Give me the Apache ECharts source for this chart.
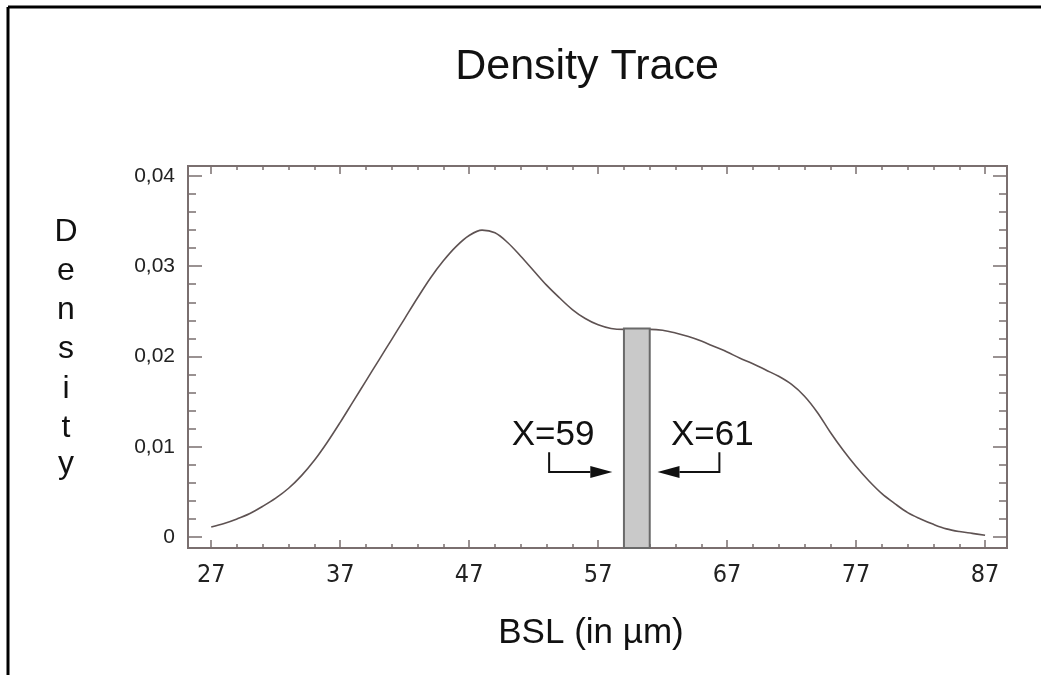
<!DOCTYPE html>
<html>
<head>
<meta charset="utf-8">
<script src="https://cdn.jsdelivr.net/npm/echarts@6/dist/echarts.min.js"></script>
<style>
html,body{margin:0;padding:0;background:#fff;}
#chart{width:1041px;height:675px;}
</style>
</head>
<body>
<div id="chart"></div>
<script>
// ---- data ----
const bslValues = [27,28,29,30,31,32,33,34,35,36,37,38,39,40,41,42,43,44,45,46,47,48,49,50,51,52,53,54,55,56,57,58,59,60,61,62,63,64,65,66,67,68,69,70,71,72,73,74,75,76,77,78,79,80,81,82,83,84,85,86,87];
const densityValues = [0.0011,0.0015,0.0020,0.0026,0.0034,0.0043,0.0054,0.0068,0.0085,0.0105,0.0127,0.0150,0.0173,0.0196,0.0219,0.0242,0.0265,0.0287,0.0306,0.0322,0.0334,0.0340,0.0337,0.0326,0.0311,0.0295,0.0279,0.0265,0.0252,0.0242,0.0235,0.0231,0.0230,0.0230,0.0230,0.0229,0.0226,0.0222,0.0217,0.0211,0.0205,0.0198,0.0192,0.0185,0.0178,0.0169,0.0156,0.0138,0.0116,0.0096,0.0078,0.0062,0.0048,0.0037,0.0027,0.0020,0.0014,0.0009,0.0006,0.0004,0.0002];
const xMajorTicks = [27,37,47,57,67,77,87];
const xMinorTicks = [29,31,33,35,39,41,43,45,49,51,53,55,59,61,63,65,69,71,73,75,79,81,83,85];
const yMajorTicks = [0,0.01,0.02,0.03,0.04];
const yMinorTicks = [0.002,0.004,0.006,0.008,0.012,0.014,0.016,0.018,0.022,0.024,0.026,0.028,0.032,0.034,0.036,0.038];
const intervalRange = [59,61];
const intervalHeight = 0.0231;
const leftLabel = {text:'X=59', x:53.5, y:0.0113};
const rightLabel = {text:'X=61', x:65.85, y:0.0113};
const leftArrow = [[53.2,0.0094],[53.2,0.0072],[58.1,0.0072]];
const rightArrow = [[66.4,0.0094],[66.4,0.0072],[61.6,0.0072]];

const X_MIN = 25.2, X_MAX = 88.7;
const Y_MIN = -0.00122, Y_MAX = 0.0411;
const axisColor = '#7a6f6f';
const curveColor = '#5e5252';
const narrowFont = '"Liberation Sans Narrow","DejaVu Sans Condensed","Liberation Sans",Arial,sans-serif';

function xAxisDef(pos, values, len, showLabel) {
  return {
    type:'value', position:pos, min:X_MIN, max:X_MAX, offset:0,
    axisLine:{show:false, onZero:false}, splitLine:{show:false},
    axisTick:{show:true, inside:true, length:len, customValues:values, lineStyle:{color:axisColor, width:1.5}},
    axisLabel:{show:showLabel, customValues:values, margin:15, color:'#222',
      fontFamily:narrowFont, fontSize:25}
  };
}
function yAxisDef(pos, values, len, showLabel) {
  return {
    type:'value', position:pos, min:Y_MIN, max:Y_MAX, offset:0,
    axisLine:{show:false, onZero:false}, splitLine:{show:false},
    axisTick:{show:true, inside:true, length:len, customValues:values, lineStyle:{color:axisColor, width:1.5}},
    axisLabel:{show:showLabel, customValues:values, margin:13, color:'#222',
      fontFamily:'"Liberation Sans",Arial,sans-serif', fontSize:21,
      formatter:function(v){ return v===0 ? '0' : v.toFixed(2).replace('.', ','); }}
  };
}

const chart = echarts.init(document.getElementById('chart'), null, {renderer:'canvas'});
chart.setOption({
  animation:false,
  backgroundColor:'#fff',
  grid:{left:188, right:34, top:166, bottom:127, show:true, borderColor:axisColor, borderWidth:2, backgroundColor:'transparent'},
  xAxis:[
    xAxisDef('bottom', xMajorTicks, 8, true),
    xAxisDef('bottom', xMinorTicks, 4, false),
    xAxisDef('top', xMajorTicks, 8, false),
    xAxisDef('top', xMinorTicks, 4, false)
  ],
  yAxis:[
    yAxisDef('left', yMajorTicks, 14, true),
    yAxisDef('left', yMinorTicks, 8, false),
    yAxisDef('right', yMajorTicks, 14, false),
    yAxisDef('right', yMinorTicks, 8, false)
  ],
  series:[
    {
      type:'custom', xAxisIndex:0, yAxisIndex:0, z:3,
      data:[[intervalRange[0], intervalRange[1], intervalHeight]],
      renderItem:function(params, api){
        const p0 = api.coord([api.value(0), Y_MIN]);
        const p1 = api.coord([api.value(1), api.value(2)]);
        return {type:'rect', shape:{x:p0[0], y:p1[1], width:p1[0]-p0[0], height:p0[1]-p1[1]},
          style:{fill:'#c9c9c9', stroke:'#6a6a6a', lineWidth:2}};
      }
    },
    {
      type:'line', xAxisIndex:0, yAxisIndex:0, z:2,
      data:bslValues.map((x,i)=>[x, densityValues[i]]),
      smooth:0.35, showSymbol:false, symbol:'none',
      lineStyle:{color:curveColor, width:1.6}
    }
  ]
});

function px(p){ return chart.convertToPixel({xAxisIndex:0, yAxisIndex:0}, p); }
function arrowGraphics(pts){
  const pp = pts.map(px);
  const tip = pp[2], prev = pp[1];
  const dir = tip[0] > prev[0] ? 1 : -1;
  const headLen = 22, headHalf = 6;
  const base = [tip[0] - dir*headLen, tip[1]];
  return [
    {type:'polyline', shape:{points:[pp[0], pp[1], base]}, style:{stroke:'#111', lineWidth:2, fill:null}, z:10},
    {type:'polygon', shape:{points:[tip, [base[0], base[1]-headHalf], [base[0], base[1]+headHalf]]}, style:{fill:'#111'}, z:10}
  ];
}
function labelGraphic(l){
  const p = px([l.x, l.y]);
  return {type:'text', x:p[0], y:p[1], z:10,
    style:{text:l.text, align:'center', verticalAlign:'middle', fill:'#111',
      font:'35px "Liberation Sans", Arial, sans-serif'}};
}
const densityLetters = ['D','e','n','s','i','t','y'];
const letterY = [232,271,310,349,389,428,464];
const graphics = [
  {type:'line', shape:{x1:8, y1:7, x2:1041, y2:7}, style:{stroke:'#000', lineWidth:3}},
  {type:'line', shape:{x1:8, y1:7, x2:8, y2:675}, style:{stroke:'#000', lineWidth:3}},
  {type:'text', x:587, y:67, style:{text:'Density Trace', align:'center', verticalAlign:'middle', fill:'#111',
    font:'43px "Liberation Sans", Arial, sans-serif'}},
  {type:'text', x:591, y:633, style:{text:'BSL (in µm)', align:'center', verticalAlign:'middle', fill:'#111',
    font:'35px "Liberation Sans", Arial, sans-serif'}},
  labelGraphic(leftLabel), labelGraphic(rightLabel)
].concat(arrowGraphics(leftArrow), arrowGraphics(rightArrow));
densityLetters.forEach((c,i)=>{
  graphics.push({type:'text', x:66, y:letterY[i], style:{text:c, align:'center', verticalAlign:'middle', fill:'#111',
    font:'32px "Liberation Sans", Arial, sans-serif'}});
});
chart.setOption({graphic:graphics});
</script>
</body>
</html>
